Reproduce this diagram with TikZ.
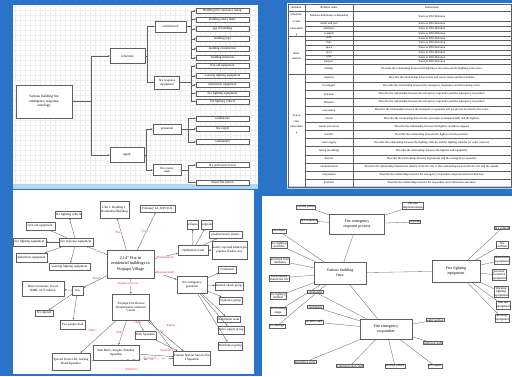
\documentclass[tikz,border=0pt]{standalone}
\usepackage{fontspec}
\setmainfont{Liberation Serif}
\usetikzlibrary{arrows.meta}
\definecolor{bgblue}{RGB}{42,115,198}
\definecolor{lblue}{RGB}{178,214,242}
\definecolor{edgec}{RGB}{95,95,95}
\definecolor{labc}{RGB}{225,45,45}
\definecolor{gridc}{RGB}{238,238,238}
\newcommand{\myfs}[2]{\fontsize{#1}{#2}\selectfont}
\begin{document}
\begin{tikzpicture}[x=1pt,y=-1pt,
 box/.style={draw=edgec, fill=white, line width=0.35pt, inner sep=0.4pt, align=center, font=\myfs{3.2}{3.7}},
 leaf/.style={box, minimum width=53pt, minimum height=4.8pt},
 arr/.style={draw=edgec, line width=0.35pt, -{Stealth[length=2pt,width=1.6pt]}},
 ln/.style={draw=edgec, line width=0.3pt},
 lab/.style={text=labc, font=\myfs{3.2}{3.7}, fill=white, inner sep=0.3pt},
 cell/.style={font=\myfs{2.9}{3.3}, inner sep=0pt, align=center},
]
\useasboundingbox (0,0) rectangle (512,376);
\fill[bgblue] (0,0) rectangle (512,376);
% ---------------- panels
\fill[white] (13,5) rectangle (258,186);
\foreach \gx in {15,20,...,255} \draw[gridc, line width=0.2pt] (\gx,5) -- (\gx,186);
\foreach \gy in {10,15,...,185} \draw[gridc, line width=0.2pt] (13,\gy) -- (258,\gy);
\fill[lblue] (13,184) rectangle (258,189);
\fill[white] (287,3) rectangle (512,188);
\fill[lblue] (287,186) rectangle (512,189);
\fill[white] (13,190) rectangle (254,374);
\fill[white] (262,196) rectangle (512,376);

% ---------------- top-left tree
\node[box, minimum width=56pt, minimum height=33pt, font=\myfs{3.6}{4.6}] (root) at (44,101.5) {Various building fire\\emergency response\\ontology};
\node[box, minimum width=35pt, minimum height=15pt, font=\myfs{3.4}{4}] (ref) at (127.5,56) {reference};
\node[box, minimum width=34pt, minimum height=15pt, font=\myfs{3.4}{4}] (agt) at (127,155) {agent};
\node[box, minimum width=31pt, minimum height=11pt] (arch) at (170.5,26.5) {architectural};
\node[box, minimum width=25pt, minimum height=13pt] (fre) at (167,82.5) {fire response\\equipment};
\node[box, minimum width=28pt, minimum height=10pt] (pers) at (167,129) {personnel};
\node[box, minimum width=28pt, minimum height=11pt] (frt) at (167,170) {fire rescue\\team};
\draw[arr] (root.east) -- ++(19,0) |- (ref.west);
\draw[arr] (root.east) -- ++(19,0) |- (agt.west);
\draw[arr] (ref.east) -- ++(1.5,0) |- (arch.west);
\draw[arr] (ref.east) -- ++(1.5,0) |- (fre.west);
\draw[arr] (agt.east) -- ++(2,0) |- (pers.west);
\draw[arr] (agt.east) -- ++(2,0) |- (frt.west);
\foreach \n/\y/\t in {a1/10.7/Building fire resistance rating, a2/19.3/building safety index, a3/29/age of building, a4/38.7/building type, a5/48.7/building construction, a6/57.7/building materials}{
 \node[leaf] (\n) at (222.5,\y) {\t};
 \draw[arr] (arch.east) -- ++(5,0) |- (\n.west);}
\foreach \n/\y/\t in {b1/66/first aid equipment, b2/76/warning lighting equipment, b3/84.7/demolition equipment, b4/93.3/fire fighting equipment, b5/101.5/fire fighting vehicle}{
 \node[leaf] (\n) at (222.5,\y) {\t};
 \draw[arr] (fre.east) -- ++(11.5,0) |- (\n.west);}
\foreach \n/\y/\t in {c1/118.3/combatants, c2/128.7/fire expert, c3/141.7/commander}{
 \node[leaf] (\n) at (222.5,\y) {\t};
 \draw[arr] (pers.east) -- ++(7,0) |- (\n.west);}
\foreach \n/\y/\t in {d1/165/fire and rescue forces, d2/182.5/Smart fire station}{
 \node[leaf] (\n) at (222.5,\y) {\t};
 \draw[arr] (frt.east) -- ++(7,0) |- (\n.west);}

% ---------------- top-right table
\draw[ln] (288,4) rectangle (511,187);
\draw[ln] (305,4) -- (305,187);
\draw[ln] (353,4) -- (353,187);
\foreach \yy in {11,35.75,74} \draw[ln] (288,\yy) -- (511,\yy);
\foreach \yy in {21.5,26.25,31,40.5,45.25,50,54.75,59.5,64.25} \draw[ln] (305,\yy) -- (511,\yy);
\foreach \k in {1,...,13} \draw[ln] (305,74+8.07*\k) -- (511,74+8.07*\k);
\node[cell] (h1) at (296.5,7.5) {Relation};
\node[cell] (h2) at (329,7.5) {Relation name};
\node[cell] (h3) at (432,7.5) {Instructions};
\node[cell, font=\myfs{2.9}{6.6}] (g1) at (296.5,25) {Inheritanc\\e class\\relationshi\\p};
\node[cell, font=\myfs{2.9}{5.6}] (g2) at (296.5,56) {Base\\relation};
\node[cell, font=\myfs{2.9}{5.6}] (g3) at (296.5,124.5) {Action\\class\\relationshi\\p};
\foreach \y/\a/\b in {16.25/{Subclass-inheritance relationship}/{Same as FEO-Relation},
 23.875/{whole and part}/{Same as FEO-Relation},
 28.625/{attributes}/{Same as FEO-Relation},
 33.375/{example}/{Same as FEO-Relation},
 38.125/{state}/{Same as FEO-Relation},
 42.875/{time}/{Same as FEO-Relation},
 47.625/{space}/{Same as FEO-Relation},
 52.375/{level}/{Same as FEO-Relation},
 57.125/{type}/{Same as FEO-Relation},
 61.875/{purpose}/{Same as FEO-Relation},
 69.1/{identity}/{Describe the relationship between firefighting action units and firefighting action roles.},
 78.04/{response}/{Describe the relationship between fire and rescue teams and the incidents.},
 86.1/{Investigate}/{Describe the relationship between the emergency responders and the burning zones.},
 94.2/{Isolation}/{Describe the relationship between the emergency responders and the emergency responders.},
 102.3/{Rotation}/{Describe the relationship between the emergency responders and the emergency responders.},
 110.3/{evacuation}/{Describe the relationship between the emergency responders and people not involved in the scene.},
 118.4/{retreat}/{Describe the relationship between the specialists (command staff) and the fighters.},
 126.5/{search and rescue}/{Describe the relationship between firefighters and those trapped.},
 134.6/{transfer}/{Describe the relationship between the fighters and the position.},
 142.6/{water supply}/{Describe the relationship between the fighting vehicles and the fighting vehicles (or water sources).},
 150.7/{laying (avoiding)}/{Describe the relationship between the fighters and equipment.},
 158.8/{discuss}/{Describe the relationship between logisticians and the emergency responders.},
 166.9/{communication}/{Describe the relationship between the interior of the fire site or the relationship between the fire site and the outside.},
 174.9/{cooperation}/{Describe the relationship between the emergency responders and professional technicians.},
 183.0/{Evaluate}/{Describe the relationship between the responders and combustion outcomes.}}{
 \node[cell] at (329,\y) {\a};
 \node[cell] at (432,\y) {\b};}

% ---------------- bottom-left map
\node[box, minimum width=29pt, minimum height=17pt] (unit) at (114.5,209.5) {Unit 1, Building 1,\\Residential Building};
\node[box, minimum width=35pt, minimum height=7pt] (feb) at (157.5,208.5) {February 14, 2019 0:24};
\node[box, minimum width=21pt, minimum height=7pt] (ffv) at (68.5,214.5) {fire fighting vehicle};
\node[box, minimum width=29pt, minimum height=8pt] (fae) at (40.5,226) {first aid equipment};
\node[box, minimum width=33pt, minimum height=8pt] (ffe) at (29.5,242) {fire fighting equipment};
\node[box, minimum width=34pt, minimum height=8pt] (fre2) at (76,242) {fire response equipment};
\node[box, minimum width=31pt, minimum height=9pt] (dem) at (31.5,257.5) {demolition equipment};
\node[box, minimum width=41pt, minimum height=7pt] (wle) at (69.5,266.5) {warning lighting equipment};
\node[box, minimum width=47pt, minimum height=28pt, font=\myfs{4.2}{5.6}] (main) at (130.5,264) {2.14" Fire in\\residential buildings in\\Yinjiapu Village};
\node[box, minimum width=11pt, minimum height=9pt] (coll) at (192.5,224.5) {collapse};
\node[box, minimum width=10pt, minimum height=9pt] (expl) at (207,224.5) {explode};
\node[box, minimum width=33pt, minimum height=7pt] (smoke) at (225.5,234.5) {produce heavy smoke};
\node[box, minimum width=30pt, minimum height=10pt] (comb) at (193,250) {combustion result};
\node[box, minimum width=35pt, minimum height=18pt] (gas) at (229.5,250) {nearby exposed natural gas\\pipeline flashes over};
\node[box, minimum width=18pt, minimum height=7pt] (cmd) at (227,269.5) {Command};
\node[box, minimum width=30pt, minimum height=17pt] (fep) at (192,284.5) {fire emergency\\personnel};
\node[box, minimum width=22pt, minimum height=8pt] (iag) at (229,286) {Internal attack group};
\node[box, minimum width=23pt, minimum height=7pt] (vig) at (230.5,300.5) {Vigilance group};
\node[box, minimum width=21pt, minimum height=6pt] (demt) at (228.5,319) {Demolition team};
\node[box, minimum width=24pt, minimum height=8pt] (wsg) at (231,330) {Water supply group};
\node[box, minimum width=24pt, minimum height=8pt] (dist) at (230,346) {Distribution group};
\node[box, minimum width=42pt, minimum height=15pt] (direct) at (43,288.5) {Direct economic loss of\\RMB 1.673 million};
\node[box, minimum width=11pt, minimum height=9pt] (loss) at (77.5,290.5) {loss};
\node[box, minimum width=18pt, minimum height=6pt] (six) at (44,313) {Six injured};
\node[box, minimum width=25pt, minimum height=9pt] (two) at (72.5,324.5) {Two people died};
\node[box, minimum width=38pt, minimum height=17pt] (ss3) at (71,361.5) {Special Service III, Jinfang\\Road Squadron};
\node[box, minimum width=37pt, minimum height=26pt] (cmdc) at (131,307) {Yinjiapu Fire Rescue\\Detachment Command\\Center};
\node[box, minimum width=46pt, minimum height=15pt] (wan) at (116,352.5) {Wan Beila, Xinglin, Binzhou\\Squadron};
\node[box, minimum width=21pt, minimum height=8pt] (fifth) at (145.5,335) {Fifth Squadron};
\node[box, minimum width=30pt, minimum height=14pt] (tai) at (192,358) {Taiyuan Special Service No.\\1 Squadron};
\draw[arr] (main) -- (unit);
\draw[arr] (main) -- (feb);
\draw[arr] (main) -- (fre2);
\draw[arr] (main) -- (loss);
\draw[arr] (main) -- (comb);
\draw[arr] (main) -- (fep);
\draw[arr] (main) -- (cmdc);
\foreach \t in {ffv,fae,ffe,dem,wle} \draw[arr] (fre2) -- (\t);
\foreach \t in {coll,expl,smoke,gas} \draw[arr] (comb) -- (\t);
\foreach \t in {cmd,iag,vig,demt,wsg,dist} \draw[arr] (fep) -- (\t);
\foreach \t in {direct,six,two} \draw[arr] (loss) -- (\t);
\foreach \t in {ss3,wan,fifth,tai} \draw[arr] (cmdc) -- (\t);
\draw[arr] (tai.north west) -- (cmdc.south east);
\draw[arr, dashed] (ss3) -- (tai);
\draw[arr] (wan) -- (tai);
\draw[arr] (fifth) -- (tai);
\node[lab] (l1) at (119,232) {Place};
\node[lab] (l2) at (145,231) {Time};
\node[lab] (l3) at (98,251) {Use};
\node[lab] (l4) at (97,278) {Result};
\node[lab] (l5) at (165,257) {Phenomenon};
\node[lab] (l6) at (165,273) {Disposal staff};
\node[lab] (l7) at (128,284) {Require process};
\node[lab] (l8) at (92,330) {Order};
\node[lab] (l9) at (120,332) {Order};
\node[lab] (l10) at (138,322) {Order};
\node[lab] (l11) at (160,331) {Order};
\node[lab] (l12) at (171,326) {Report};
\node[lab] (l13) at (167,350) {Reinforce};
\node[lab] (l14) at (150,358) {Reinforce};
\node[lab] (l15) at (132,369) {Reinforce};

% ---------------- bottom-right map
\node[box] (callp) at (306,207) {call the police};
\node[box] (firer) at (309,221) {fire response};
\node[box, font=\myfs{4}{4.8}, minimum width=55pt, minimum height=20pt] (ferp) at (357,224) {Fire emergency\\response process};
\node[box] (onsite) at (413,206) {On-site\\implementation};
\node[box] (regroup) at (415,222) {regroup};
\node[box, font=\myfs{4}{4.8}, minimum width=52pt, minimum height=22pt] (vbf) at (340,273) {Various building\\fires};
\node[box, font=\myfs{4}{4.8}, minimum width=48pt, minimum height=22pt] (ffeq) at (456,271) {Fire fighting\\equipment};
\node[box, font=\myfs{4}{4.8}, minimum width=52pt, minimum height=20pt] (fer) at (386,329) {Fire emergency\\responders};
\foreach \n/\x/\y/\t in {fobj/279/231/{fire object}, ffel/279/245/{fire fighting\\elements}, inh/280/261/{inherited from\\attributes}, env/279/278/{environment\\around the fire}, ffm/278/296/{fire fighting\\method}, fbs/278/311/{fire burning\\stage}, fdam/277/326/{fire damage}}{
 \node[box] (\n) at (\x,\y) {\t};
 \draw[ln] (vbf) -- (\n);}
\foreach \n/\x/\y/\t in {fveh/502/228/{fire vehicle}, ffac/502/245/{fire\\facilities}, deme/502/260/{demolition\\equipment}, ppe/499/275/{personal\\protective\\equipment}, wle3/501/292/{Warning\\lighting\\equipment}, fae3/503/305/{first aid\\equipment}, aux/502/318/{auxiliary\\equipment}}{
 \node[box] (\n) at (\x,\y) {\t};
 \draw[ln] (ffeq) -- (\n);}
\foreach \n/\x/\y/\t in {cmdr/315/292/{commander}, cbt/315/307/{combatants}, secs/314/322/{security staff}, demc/305/362/{demolition crew}, comms/350/366/{communication staff}, seco/395/366/{security officer}, fexp/435/366/{fire expert}, tech/433/343/{technical staff}, water/435/320/{water worker}}{
 \node[box] (\n) at (\x,\y) {\t};
 \draw[ln] (fer) -- (\n);}
\foreach \t in {callp,firer,onsite,regroup} \draw[ln] (ferp) -- (\t);
\draw[ln] (vbf) -- (ferp);
\draw[ln] (vbf) -- (ffeq);
\draw[ln] (vbf) -- (fer);
\end{tikzpicture}
\end{document}
